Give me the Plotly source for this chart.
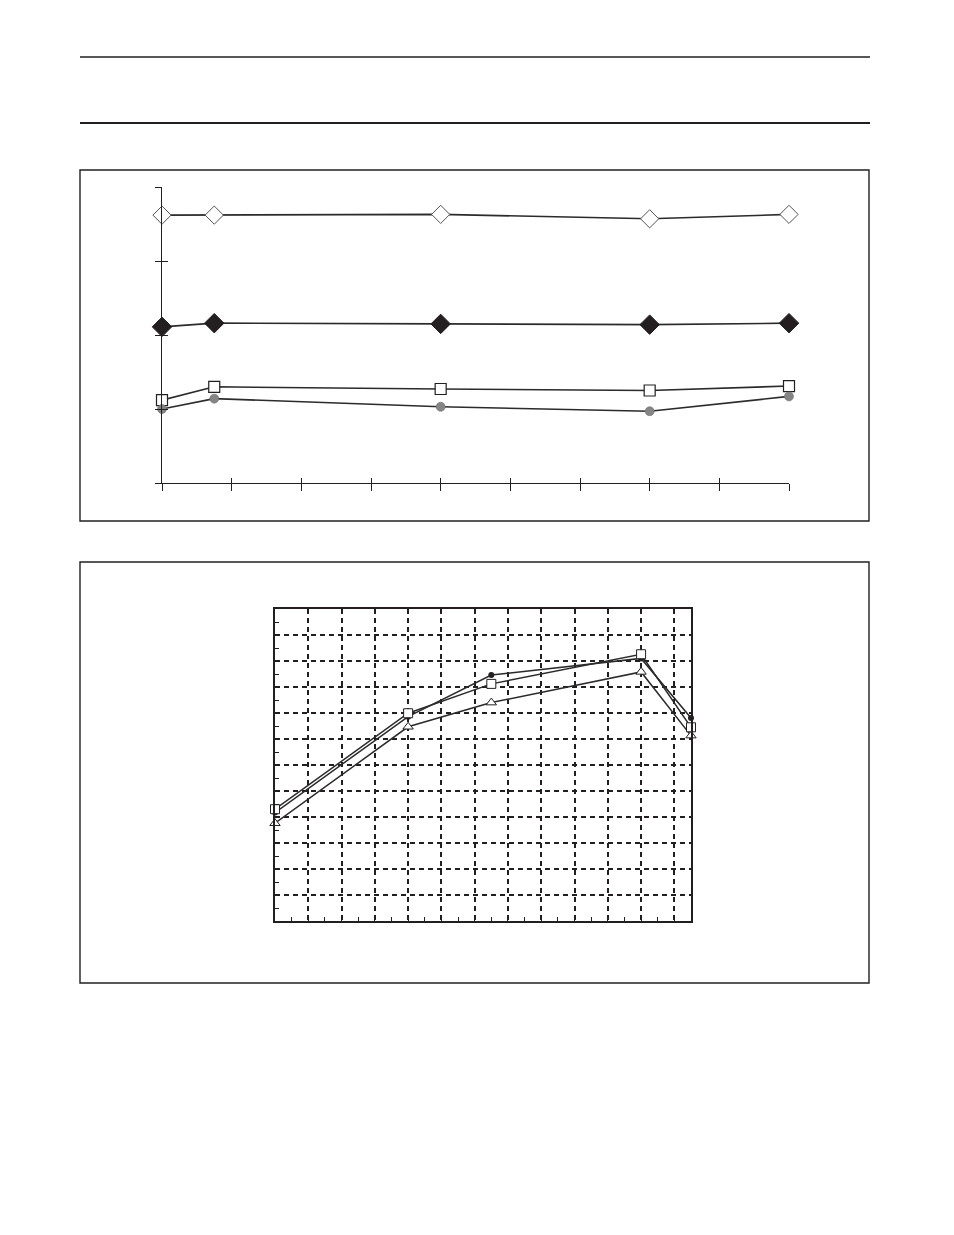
"""
plot.py
-------
Recreates a scanned data-sheet page with two unlabeled line charts:
  top)    four flat series (open/filled diamonds, squares, circles)
  bottom) three rising-then-falling series on a dashed grid
"""

import plotly.graph_objects as go

# ---------------------------------------------------------------------------
# DATA – values
# ---------------------------------------------------------------------------

TOP_X = [0, 7.5, 40, 70, 90]
TOP_OPEN_DIAMOND = [3.62, 3.62, 3.63, 3.57, 3.63]
TOP_FILLED_DIAMOND = [2.11, 2.16, 2.15, 2.14, 2.16]
TOP_SQUARE = [1.12, 1.30, 1.27, 1.25, 1.31]
TOP_CIRCLE = [1.00, 1.14, 1.03, 0.97, 1.17]

BOTTOM_X = [0, 20, 32.5, 55, 62.5]
BOTTOM_DOT = [4.17, 7.86, 9.46, 10.10, 7.81]
BOTTOM_SQUARE = [4.30, 7.99, 9.12, 10.26, 7.45]
BOTTOM_TRIANGLE = [3.76, 7.47, 8.40, 9.58, 7.13]

# ---------------------------------------------------------------------------
# CONFIG – page geometry (pixels of the 954 x 1235 page)
# ---------------------------------------------------------------------------

W, H = 954, 1235
OFF = 8          # default body margin of the html page
FW, FH = W - OFF, H - OFF
INK = "#231f20"
LINE = "#2b2b2b"
GRID_DASH = "5px,4px"


def px(x):
    return (x - OFF) / FW


def py(y):
    return 1 - (y - OFF) / FH


# ---------------------------------------------------------------------------
# 1. Traces
# ---------------------------------------------------------------------------

fig = go.Figure()

top_series = [
    (TOP_OPEN_DIAMOND, dict(symbol="diamond", size=14, color="white", line=dict(color="#555555", width=1))),
    (TOP_FILLED_DIAMOND, dict(symbol="diamond", size=15, color=INK, line=dict(color=INK, width=1))),
    (TOP_SQUARE, dict(symbol="square", size=11, color="white", line=dict(color=INK, width=1.2))),
    (TOP_CIRCLE, dict(symbol="circle", size=9, color="#858585", line=dict(color="#6f6f6f", width=0.6))),
]

# invisible copy so the overlay axes (inner half of the crossing ticks) get drawn
fig.add_trace(go.Scatter(
    x=TOP_X, y=TOP_CIRCLE, mode="lines", opacity=0,
    hoverinfo="skip", showlegend=False, xaxis="x3", yaxis="y3",
))

for values, marker in top_series:
    fig.add_trace(go.Scatter(
        x=TOP_X, y=values, mode="lines+markers",
        line=dict(color=LINE, width=1.6),
        marker=marker, cliponaxis=False, showlegend=False,
        xaxis="x", yaxis="y",
    ))

bottom_series = [
    (BOTTOM_TRIANGLE, dict(symbol="triangle-up", size=9, color="white", line=dict(color=INK, width=1))),
    (BOTTOM_DOT, dict(symbol="circle", size=6, color=INK)),
    (BOTTOM_SQUARE, dict(symbol="square", size=9, color="white", line=dict(color=INK, width=1))),
]
for values, marker in bottom_series:
    fig.add_trace(go.Scatter(
        x=BOTTOM_X, y=values, mode="lines+markers",
        line=dict(color=LINE, width=1.5),
        marker=marker, cliponaxis=False, showlegend=False,
        xaxis="x2", yaxis="y2",
    ))

# ---------------------------------------------------------------------------
# 2. Axes
# ---------------------------------------------------------------------------

top_xdom = [px(162), px(789)]
top_ydom = [py(483), py(187)]
bot_xdom = [px(275), px(691)]
bot_ydom = [py(921), py(609)]

plain = dict(showgrid=False, zeroline=False, showticklabels=False)

fig.update_layout(
    width=FW, height=FH,
    margin=dict(l=0, r=0, t=0, b=0),
    paper_bgcolor="white", plot_bgcolor="rgba(0,0,0,0)",
    # top chart: outward ticks
    xaxis=dict(domain=top_xdom, range=[0, 90], dtick=10, anchor="y",
               showline=True, linecolor=INK, linewidth=1.3,
               ticks="outside", ticklen=7, tickwidth=1.3, tickcolor=INK, **plain),
    yaxis=dict(domain=top_ydom, range=[0, 4], dtick=1, anchor="x",
               showline=True, linecolor=INK, linewidth=1.3,
               ticks="outside", ticklen=6, tickwidth=1.3, tickcolor=INK, **plain),
    # top chart: inward half of the crossing ticks
    xaxis3=dict(domain=top_xdom, range=[0, 90], dtick=10, overlaying="x", anchor="y3",
                showline=False, ticks="inside", ticklen=5, tickwidth=1.3, tickcolor=INK, **plain),
    yaxis3=dict(domain=top_ydom, range=[0, 4], dtick=1, overlaying="y", anchor="x3",
                showline=False, ticks="inside", ticklen=6, tickwidth=1.3, tickcolor=INK, **plain),
    # bottom chart: boxed with dashed grid
    xaxis2=dict(domain=bot_xdom, range=[0, 62.5], dtick=5, anchor="y2",
                showline=True, mirror=True, linecolor=INK, linewidth=1.8,
                showgrid=True, gridcolor=INK, gridwidth=1.5, griddash=GRID_DASH,
                zeroline=False, showticklabels=False,
                ticks="inside", ticklen=4, tickcolor=INK,
                minor=dict(dtick=2.5, ticks="inside", ticklen=4, tickcolor=INK, showgrid=False)),
    yaxis2=dict(domain=bot_ydom, range=[0, 12], dtick=1, anchor="x2",
                showline=True, mirror=True, linecolor=INK, linewidth=1.8,
                showgrid=True, gridcolor=INK, gridwidth=1.5, griddash=GRID_DASH,
                zeroline=False, showticklabels=False,
                ticks="inside", ticklen=4, tickcolor=INK,
                minor=dict(dtick=0.5, ticks="inside", ticklen=4, tickcolor=INK, showgrid=False)),
)

# ---------------------------------------------------------------------------
# 3. Page furniture: header rules and chart frames
# ---------------------------------------------------------------------------

shapes = [
    dict(type="line", x0=px(80), x1=px(870), y0=py(57), y1=py(57), line=dict(color=INK, width=1.3)),
    dict(type="line", x0=px(80), x1=px(870), y0=py(123), y1=py(123), line=dict(color=INK, width=2)),
    dict(type="rect", x0=px(80), x1=px(869), y0=py(521), y1=py(170), line=dict(color=INK, width=1.4)),
    dict(type="rect", x0=px(80), x1=px(869), y0=py(983), y1=py(562), line=dict(color=INK, width=1.4)),
]
for s in shapes:
    fig.add_shape(xref="paper", yref="paper", layer="below", **s)

fig.write_html("out.html")
